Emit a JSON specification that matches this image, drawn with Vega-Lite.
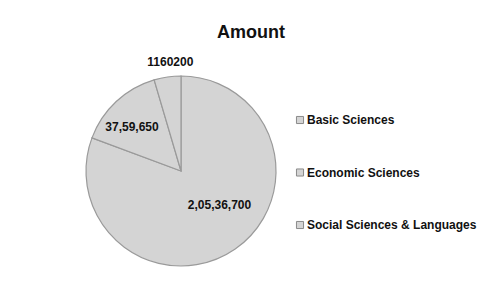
{
  "$schema": "https://vega.github.io/schema/vega-lite/v6.json",
  "width": 190,
  "height": 190,
  "autosize": "none",
  "padding": {"left": 86, "top": 76, "right": 205, "bottom": 20},
  "background": "white",
  "title": {
    "text": "Amount",
    "font": "Liberation Sans",
    "fontSize": 18,
    "fontWeight": "bold",
    "color": "#111111",
    "anchor": "middle",
    "dx": 70,
    "offset": 14
  },
  "data": {
    "values": [
      {"category": "Basic Sciences", "amount": 20536700, "label": "2,05,36,700"},
      {"category": "Economic Sciences", "amount": 3759650, "label": "37,59,650"},
      {"category": "Social Sciences & Languages", "amount": 1160200, "label": "1160200"}
    ]
  },
  "encoding": {
    "theta": {"field": "amount", "type": "quantitative", "stack": true},
    "order": {"field": "category", "sort": "ascending"},
    "color": {
      "field": "category",
      "type": "nominal",
      "scale": {
        "domain": ["Basic Sciences", "Economic Sciences", "Social Sciences & Languages"],
        "range": ["#d4d4d4", "#d4d4d4", "#d4d4d4"]
      },
      "legend": {
        "title": null,
        "orient": "none",
        "legendX": 208,
        "legendY": 38,
        "symbolType": "square",
        "symbolSize": 50,
        "symbolStrokeColor": "#8a8a8a",
        "symbolStrokeWidth": 1,
        "symbolOpacity": 1,
        "labelFont": "Liberation Sans",
        "labelFontSize": 12,
        "labelFontWeight": "bold",
        "labelColor": "#111111",
        "labelOffset": 1,
        "rowPadding": 40.5,
        "labelLimit": 300
      }
    }
  },
  "layer": [
    {
      "mark": {"type": "arc", "outerRadius": 95, "stroke": "#9a9a9a", "strokeWidth": 1.2}
    },
    {
      "mark": {"type": "text", "radius": 50, "dx": 10, "dy": -7, "font": "Liberation Sans", "fontSize": 12, "fontWeight": "bold"},
      "encoding": {
        "text": {"condition": {"test": "datum.category === 'Basic Sciences'", "field": "label"}, "value": ""},
        "color": {"value": "#111111"}
      }
    },
    {
      "mark": {"type": "text", "radius": 66, "dx": -4, "dy": 4, "font": "Liberation Sans", "fontSize": 12, "fontWeight": "bold"},
      "encoding": {
        "text": {"condition": {"test": "datum.category === 'Economic Sciences'", "field": "label"}, "value": ""},
        "color": {"value": "#111111"}
      }
    },
    {
      "mark": {"type": "text", "radius": 110, "dx": 5, "dy": 0, "font": "Liberation Sans", "fontSize": 12, "fontWeight": "bold"},
      "encoding": {
        "text": {"condition": {"test": "datum.category === 'Social Sciences & Languages'", "field": "label"}, "value": ""},
        "color": {"value": "#111111"}
      }
    }
  ],
  "config": {
    "view": {"stroke": null}
  }
}
